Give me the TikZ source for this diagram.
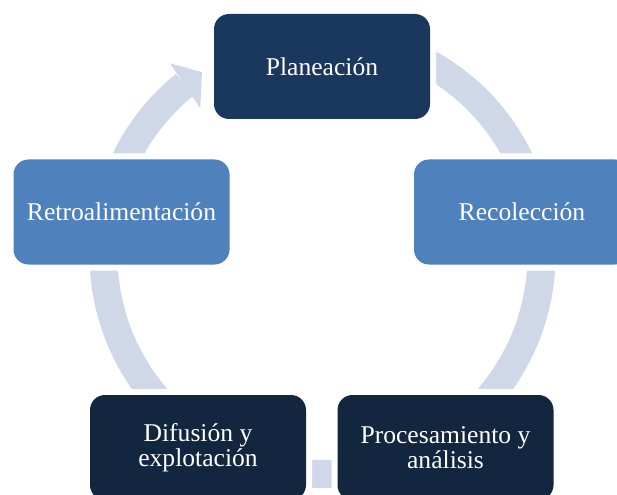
\documentclass[tikz,border=0pt]{standalone}
\usepackage{fontspec}
\setmainfont{Liberation Serif}
\usetikzlibrary{positioning}
\definecolor{azulosc}{HTML}{1A385E}
\definecolor{azulmed}{HTML}{4F81BD}
\definecolor{azulnoc}{HTML}{12263F}
\definecolor{anillo}{HTML}{D0D8E8}

\begin{document}
\begin{tikzpicture}[x=0.5pt, y=0.5pt, font=\fontsize{12.8}{12.4}\selectfont,
    fase/.style={rounded corners=7.5pt, text=white, align=center, inner sep=0pt,
        minimum width=108pt, minimum height=52.5pt,
        preaction={draw=white, line width=6pt}}]
    \useasboundingbox (0,0) rectangle (617,494);
    \clip (0,0) rectangle (617,494);
    % anillo con flecha
    \begin{scope}[shift={(322.5,239)}]
        \fill[anillo] (110:233) arc[start angle=110, end angle=-231, radius=233]
            -- (-231:205) arc[start angle=-231, end angle=110, radius=205] -- cycle;
        \fill[anillo] (128.5:245) -- (123.4:219) -- (129.8:191) -- cycle;
    \end{scope}
    % fases
    \node[fase, fill=azulosc] (plan) at (322,427.5) {Planeación};
    \node[fase, fill=azulmed] (reco) at (522,282) {Recolección};
    \node[fase, fill=azulnoc] (proc) at (445.5,46.5) {Procesamiento y\\análisis};
    \node[fase, fill=azulnoc] (difu) at (198,46.5) {Difusión y\\explotación};
    \node[fase, fill=azulmed] (retro) at (121.5,282) {Retroalimentación};
\end{tikzpicture}
\end{document}
